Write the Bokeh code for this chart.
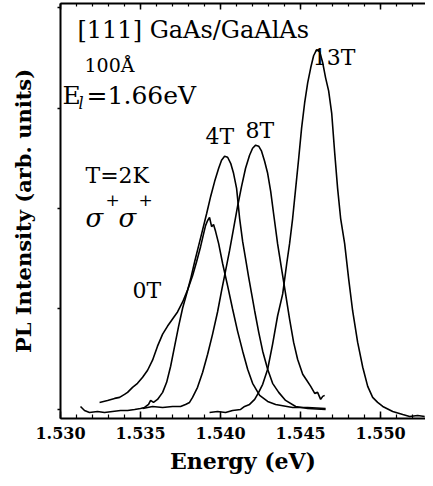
from bokeh.plotting import figure
from bokeh.models import Range1d, LinearAxis, SingleIntervalTicker, Label, CustomJSTickFormatter
from bokeh.embed import file_html
from bokeh.resources import INLINE

# ---------------- data ----------------
e_0T = [1.53244, 1.53294, 1.53338, 1.53369, 1.53400, 1.53419, 1.53450, 1.53481, 1.53513, 1.53544,
        1.53575, 1.53606, 1.53638, 1.53669, 1.53700, 1.53731, 1.53763, 1.53794, 1.53825, 1.53850,
        1.53875, 1.53894, 1.53906, 1.53919, 1.53931, 1.53944, 1.53956, 1.53969, 1.53988, 1.54013,
        1.54044, 1.54075, 1.54106, 1.54138, 1.54169, 1.54200, 1.54244, 1.54294, 1.54344, 1.54450,
        1.54544, 1.54656]
i_0T = [0.07, 0.09, 0.11, 0.12, 0.15, 0.17, 0.22, 0.26, 0.32, 0.39,
        0.49, 0.63, 0.75, 0.83, 0.90, 0.97, 1.07, 1.19, 1.33, 1.47,
        1.62, 1.75, 1.83, 1.88, 1.91, 1.82, 1.84, 1.77, 1.65, 1.45,
        1.23, 1.00, 0.78, 0.58, 0.40, 0.26, 0.14, 0.08, 0.05, 0.02,
        0.02, 0.01]

e_4T = [1.53125, 1.53150, 1.53181, 1.53231, 1.53275, 1.53325, 1.53375, 1.53419, 1.53463, 1.53500,
        1.53525, 1.53550, 1.53563, 1.53581, 1.53606, 1.53638, 1.53663, 1.53688, 1.53713, 1.53738,
        1.53763, 1.53788, 1.53813, 1.53838, 1.53863, 1.53888, 1.53913, 1.53938, 1.53963, 1.53988,
        1.54006, 1.54025, 1.54044, 1.54063, 1.54081, 1.54100, 1.54119, 1.54138, 1.54156, 1.54175,
        1.54194, 1.54213, 1.54238, 1.54263, 1.54294, 1.54325, 1.54363, 1.54406, 1.54469, 1.54544,
        1.54656]
i_4T = [0.03, -0.01, -0.03, -0.02, -0.03, -0.02, -0.01, -0.01, 0.00, 0.01,
        0.02, 0.05, 0.09, 0.07, 0.10, 0.17, 0.27, 0.43, 0.63, 0.83,
        1.01, 1.15, 1.30, 1.47, 1.63, 1.79, 1.95, 2.12, 2.27, 2.40,
        2.48, 2.52, 2.51, 2.45, 2.35, 2.20, 1.90, 1.67, 1.50, 1.32,
        1.15, 0.98, 0.77, 0.58, 0.40, 0.26, 0.17, 0.09, 0.03, 0.01,
        0.00]

e_8T = [1.53513, 1.53575, 1.53638, 1.53700, 1.53750, 1.53781, 1.53806, 1.53825, 1.53856, 1.53888,
        1.53919, 1.53950, 1.53981, 1.54006, 1.54031, 1.54056, 1.54081, 1.54106, 1.54131, 1.54156,
        1.54181, 1.54200, 1.54219, 1.54238, 1.54256, 1.54275, 1.54294, 1.54313, 1.54331, 1.54356,
        1.54381, 1.54406, 1.54431, 1.54456, 1.54481, 1.54513, 1.54538, 1.54563, 1.54588, 1.54606,
        1.54625, 1.54638, 1.54650]
i_8T = [0.01, 0.03, 0.02, 0.03, 0.03, 0.05, 0.07, 0.12, 0.22, 0.37,
        0.55, 0.75, 0.97, 1.18, 1.38, 1.58, 1.80, 2.02, 2.22, 2.40,
        2.53, 2.60, 2.63, 2.62, 2.57, 2.47, 2.35, 2.17, 1.95, 1.65,
        1.40, 1.15, 0.90, 0.67, 0.50, 0.35, 0.29, 0.23, 0.16, 0.17,
        0.10, 0.13, 0.14]

e_13T = [1.53931, 1.53981, 1.54031, 1.54075, 1.54125, 1.54150, 1.54181, 1.54213, 1.54238, 1.54263,
         1.54294, 1.54325, 1.54356, 1.54388, 1.54413, 1.54431, 1.54450, 1.54469, 1.54488, 1.54506,
         1.54525, 1.54544, 1.54563, 1.54581, 1.54600, 1.54619, 1.54638, 1.54656, 1.54675, 1.54694,
         1.54713, 1.54731, 1.54750, 1.54775, 1.54800, 1.54825, 1.54856, 1.54888, 1.54919, 1.54950,
         1.54981, 1.55013, 1.55075, 1.55138, 1.55181, 1.55231, 1.55275]
i_13T = [-0.03, -0.02, -0.03, -0.01, 0.00, 0.03, 0.05, 0.10, 0.17, 0.25,
         0.40, 0.65, 0.93, 1.15, 1.45, 1.65, 1.90, 2.20, 2.50, 2.80,
         3.05, 3.25, 3.40, 3.52, 3.58, 3.56, 3.45, 3.30, 3.17, 2.95,
         2.55, 2.20, 1.90, 1.65, 1.30, 0.98, 0.67, 0.42, 0.23, 0.12,
         0.07, 0.03, -0.02, -0.05, -0.07, -0.06, -0.07]

x_tick_labels = {1.530: "1.530", 1.535: "1.535", 1.540: "1.540", 1.545: "1.545", 1.550: "1.550"}

# ---------------- figure ----------------
SERIF = "DejaVu Serif"
p = figure(width=425, height=476, output_backend="svg", toolbar_location=None,
           x_range=Range1d(1.530, 1.5528), y_range=Range1d(-0.09, 4.04),
           x_axis_location=None, y_axis_location=None,
           min_border_left=60, min_border_right=0, min_border_top=3, min_border_bottom=0)
p.outline_line_color = None
p.xgrid.visible = False
p.ygrid.visible = False
p.background_fill_color = "white"
p.border_fill_color = "white"

blank = CustomJSTickFormatter(code="return '';")

# bottom axis
xb = LinearAxis(ticker=SingleIntervalTicker(interval=0.005, num_minor_ticks=5),
                major_label_overrides=x_tick_labels,
                axis_label="Energy (eV)")
# top axis (ticks only)
xt = LinearAxis(ticker=SingleIntervalTicker(interval=0.005, num_minor_ticks=5),
                formatter=blank, major_label_standoff=0)
# left axis (ticks only + title)
yl = LinearAxis(ticker=SingleIntervalTicker(interval=1.0, num_minor_ticks=0),
                formatter=blank, major_label_standoff=0,
                axis_label="PL Intensity (arb. units)")

for ax in (xb, xt, yl):
    ax.axis_line_width = 2
    ax.axis_line_color = "black"
    ax.major_tick_line_color = "black"
    ax.minor_tick_line_color = "black"
    ax.major_tick_line_width = 1.5
    ax.minor_tick_line_width = 1.2
    ax.axis_label_text_font = SERIF
    ax.axis_label_text_font_style = "bold"
    ax.axis_label_text_color = "black"
    ax.major_label_text_font = SERIF
    ax.major_label_text_font_style = "bold"
    ax.major_label_text_color = "black"
    ax.major_label_text_font_size = "16px"

xb.major_tick_in = 7
xb.major_tick_out = 0
xb.minor_tick_in = 4
xb.minor_tick_out = 0
xb.major_label_standoff = 8
xb.axis_label_text_font_size = "22px"
xb.axis_label_standoff = 6

xt.major_tick_in = 6
xt.major_tick_out = 0
xt.minor_tick_in = 3
xt.minor_tick_out = 0

yl.major_tick_in = 0
yl.major_tick_out = 3
yl.minor_tick_in = 0
yl.minor_tick_out = 0
yl.axis_label_text_font_size = "21px"
yl.axis_label_standoff = 22

p.add_layout(xb, "below")
p.add_layout(xt, "above")
p.add_layout(yl, "left")

# curves
for e, i in ((e_0T, i_0T), (e_4T, i_4T), (e_8T, i_8T), (e_13T, i_13T)):
    p.line(e, i, line_color="black", line_width=1.6)

# annotations
def lab(x, y, text, size, font=SERIF, style="normal"):
    p.add_layout(Label(x=x, y=y, text=text, text_font=font, text_font_size=size,
                       text_font_style=style, text_color="black",
                       text_baseline="middle", text_align="left"))

lab(1.53106, 3.78, "[111] GaAs/GaAlAs", "24px")
lab(1.53150, 3.43, "100Å", "19px")
lab(1.53013, 3.12, "E", "25px")
lab(1.53113, 3.04, "l", "16px", style="italic")
lab(1.53163, 3.12, "=1.66eV", "25px")
lab(1.53156, 2.33, "T=2K", "22px")
lab(1.53156, 1.91, "σ", "26px", style="italic")
lab(1.53281, 2.08, "+", "17px")
lab(1.53363, 1.91, "σ", "26px", style="italic")
lab(1.53488, 2.08, "+", "17px")
lab(1.53450, 1.18, "0T", "22px")
lab(1.53906, 2.72, "4T", "22px")
lab(1.54156, 2.78, "8T", "22px")
lab(1.54575, 3.50, "13T", "22px")

open("out.html", "w").write(file_html(p, INLINE))
